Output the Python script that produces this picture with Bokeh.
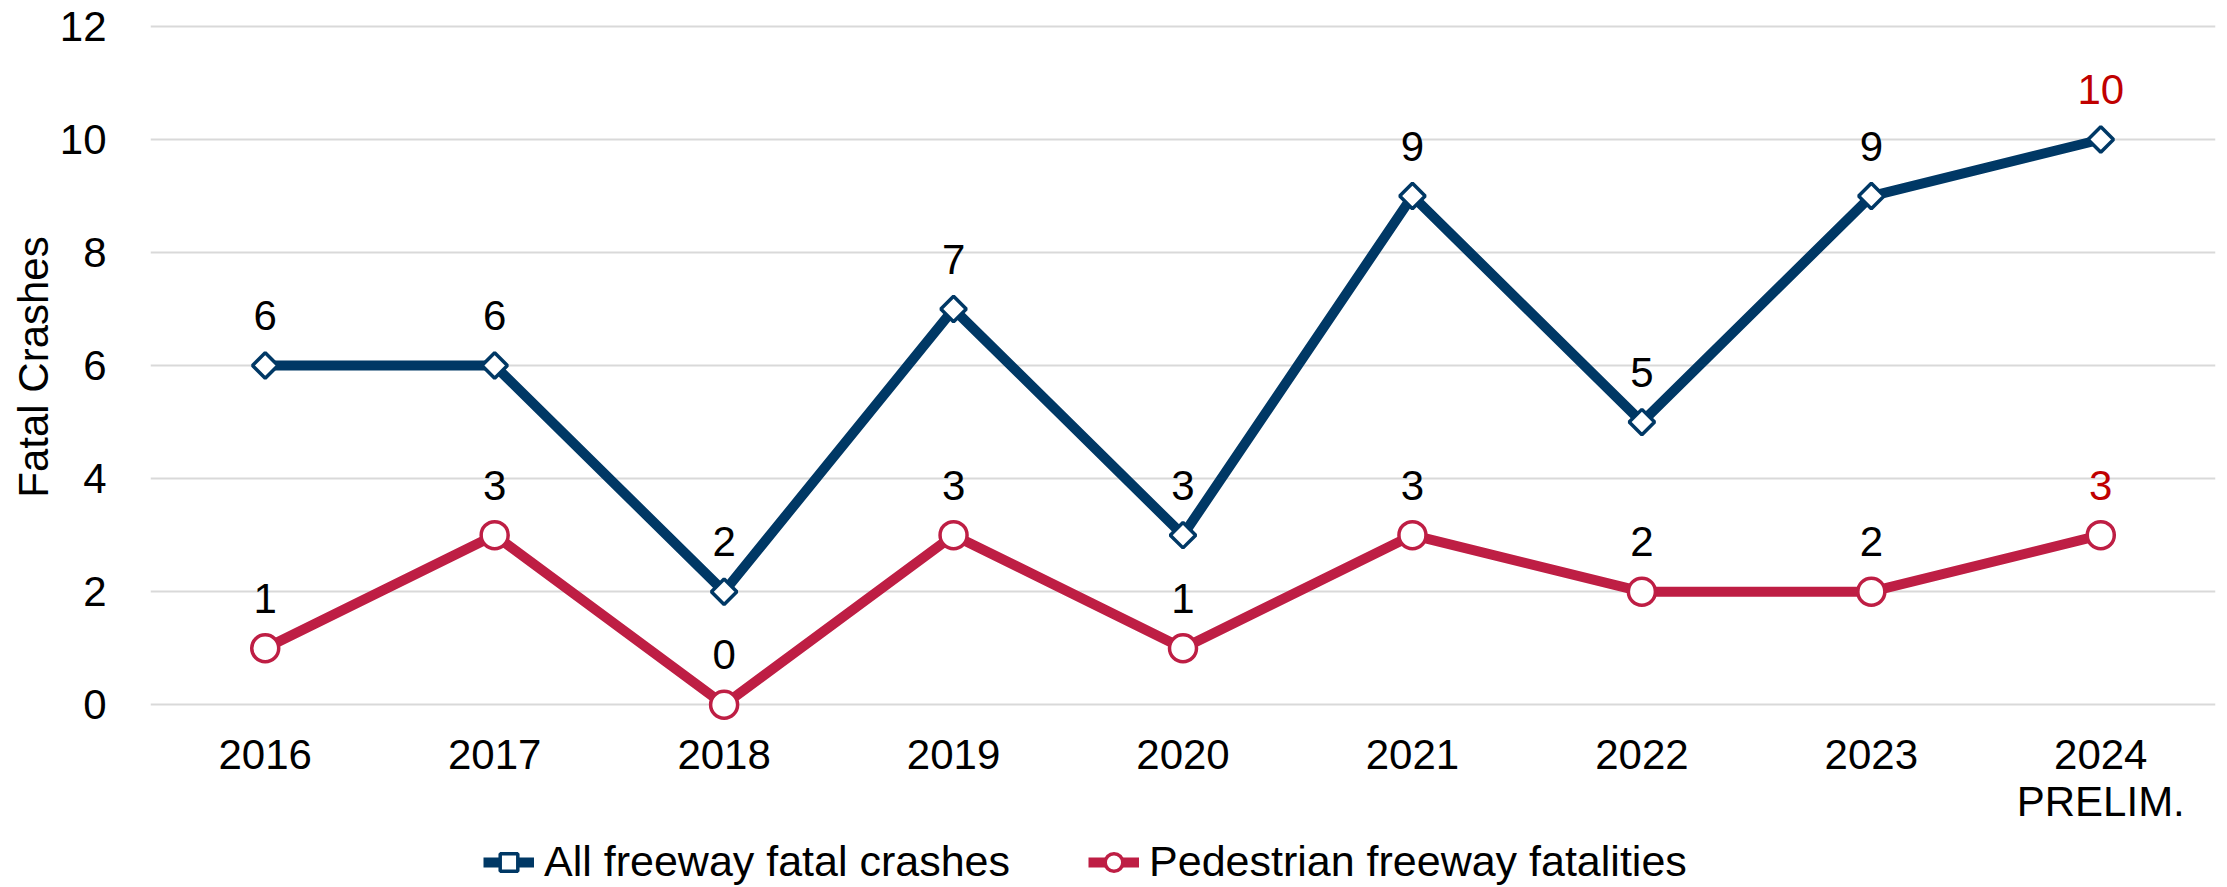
from bokeh.plotting import figure
from bokeh.layouts import column
from bokeh.models import FactorRange, Range1d, FixedTicker, Legend, LegendItem, ColumnDataSource
from bokeh.core.properties import value
from bokeh.embed import file_html
from bokeh.resources import INLINE
import math

categories = ["2016", "2017", "2018", "2019", "2020", "2021", "2022", "2023", "2024\nPRELIM."]
all_crashes = [6, 6, 2, 7, 3, 9, 5, 9, 10]
ped_fatalities = [1, 3, 0, 3, 1, 3, 2, 2, 3]
all_label_colors = ["#000000"] * 8 + ["#C00000"]
ped_label_colors = ["#000000"] * 8 + ["#C00000"]
y_ticks = [0, 2, 4, 6, 8, 10, 12]
series_names = ["All freeway fatal crashes", "Pedestrian freeway fatalities"]

BLUE = "#003865"
RED = "#BE1E44"
FONT = "Liberation Sans"
FS = "42px"

p = figure(x_range=FactorRange(*categories), y_range=Range1d(-0.35, 12.3),
           frame_width=2065, frame_height=715, min_border_left=150, min_border_top=9,
           min_border_right=4, min_border_bottom=114,
           output_backend="svg", toolbar_location=None)
p.outline_line_color = None
p.background_fill_color = "white"

src_a = ColumnDataSource(dict(x=categories, y=all_crashes, lbl=[str(v) for v in all_crashes], c=all_label_colors))
src_p = ColumnDataSource(dict(x=categories, y=ped_fatalities, lbl=[str(v) for v in ped_fatalities], c=ped_label_colors))

line_a = dict(line_color=BLUE, line_width=10)
mark_a = dict(marker="square", angle=math.pi / 4, size=18, fill_color="white", line_color=BLUE, line_width=3.5)
line_p = dict(line_color=RED, line_width=10)
mark_p = dict(marker="circle", size=27, fill_color="white", line_color=RED, line_width=3.5)

p.line("x", "y", source=src_a, **line_a)
p.scatter("x", "y", source=src_a, **mark_a)
p.line("x", "y", source=src_p, **line_p)
p.scatter("x", "y", source=src_p, **mark_p)

for s in (src_a, src_p):
    p.text("x", "y", text="lbl", source=s, y_offset=-50, text_align="center",
           text_baseline="middle", text_font=value(FONT), text_font_size=FS, text_color="c")

p.yaxis.ticker = FixedTicker(ticks=y_ticks)
p.ygrid.ticker = FixedTicker(ticks=y_ticks)
p.xgrid.grid_line_color = None
p.ygrid.grid_line_color = "#D9D9D9"
p.ygrid.grid_line_width = 2

for ax in (p.xaxis[0], p.yaxis[0]):
    ax.axis_line_color = None
    ax.major_tick_line_color = None
    ax.minor_tick_line_color = None
    ax.major_label_text_font = FONT
    ax.major_label_text_font_size = FS
    ax.major_label_text_color = "#000000"

p.xaxis.major_label_standoff = 0
p.xaxis.major_label_text_line_height = 1.0
p.yaxis.major_label_standoff = 38
p.yaxis.axis_label = "Fatal Crashes"
p.yaxis.axis_label_text_font = FONT
p.yaxis.axis_label_text_font_size = FS
p.yaxis.axis_label_text_font_style = "normal"
p.yaxis.axis_label_text_color = "#000000"
p.yaxis.axis_label_standoff = 0

# legend strip below the chart (series drawn off-range, only their legend glyphs show)
lg = figure(width=2219, height=48, x_range=p.x_range, y_range=Range1d(-100, -99),
            min_border=0, output_backend="svg", toolbar_location=None)
lg.axis.visible = False
lg.grid.visible = False
lg.outline_line_color = None
r1 = lg.line("x", "y", source=src_a, **line_a)
r2 = lg.scatter("x", "y", source=src_a, **mark_a)
r3 = lg.line("x", "y", source=src_p, **line_p)
r4 = lg.scatter("x", "y", source=src_p, **mark_p)
legend = Legend(items=[LegendItem(label=series_names[0], renderers=[r1, r2]),
                       LegendItem(label=series_names[1], renderers=[r3, r4])],
                orientation="horizontal", location=(333, 0),
                label_text_font=FONT, label_text_font_size="43px", label_text_color="#000000",
                glyph_width=51, glyph_height=44, label_standoff=10, spacing=78,
                padding=0, margin=0, border_line_color=None, background_fill_alpha=0)
lg.add_layout(legend, "center")

page = column(p, lg, spacing=0)
open("out.html", "w").write(file_html(page, INLINE))
